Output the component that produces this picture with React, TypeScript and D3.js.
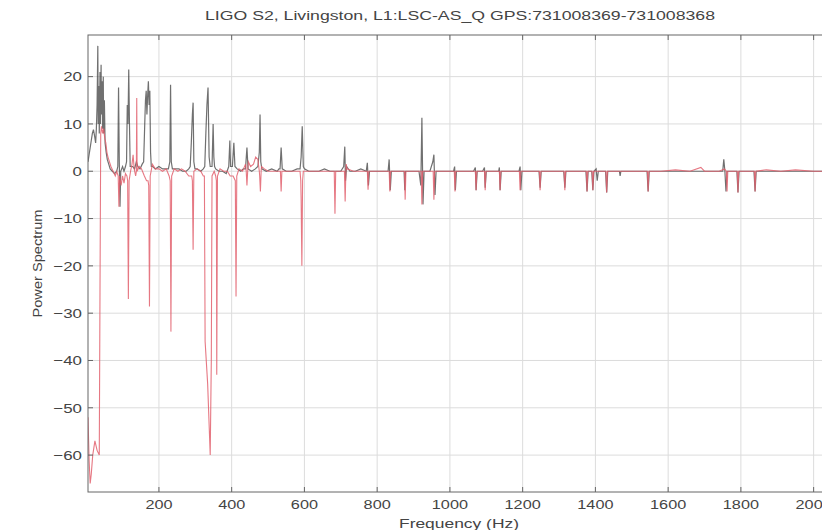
import React from 'react';
import * as d3 from 'd3';

// axis ticks
const xTicks = [200, 400, 600, 800, 1000, 1200, 1400, 1600, 1800, 2000];
const yTicks = [20, 10, 0, -10, -20, -30, -40, -50, -60];

const titleText = 'LIGO S2, Livingston, L1:LSC-AS_Q GPS:731008369-731008368';

// [frequency (Hz), power]
const blackSeries: [number, number][] = [
  [5, 2], [8, 3.5], [11, 5], [14, 6.5], [17, 8], [20, 8.8], [23, 7.5], [26, 6], [28, 9], [30, 14],
  [32, 26.5], [33, 10], [35, 18], [36, 8], [38, 21], [39, 10], [41, 22.5], [42, 12], [44, 19], [45, 9],
  [47, 20], [48, 8], [50, 15], [52, 6], [55, 4], [58, 2.5], [62, 1.5], [66, 0.5], [72, 0], [78, -0.5],
  [84, 0], [87, 1], [89, 17.7], [91, 2], [93, -7.5], [95, 0], [100, 1], [104, 0], [108, 1], [111, 2],
  [113, 14], [115, 10], [117, 21.5], [119, 10], [121, 1], [124, 1], [128, 1], [133, 0.5], [138, 2], [142, 1],
  [148, 0.5], [154, 1.5], [158, 2], [161, 10], [163, 15], [165, 17], [167, 12], [169, 16], [171, 19], [173, 14],
  [175, 17], [177, 4], [179, 1], [183, 1], [190, 0.5], [200, 1], [210, 0.5], [220, 0.5], [226, 0.5], [230, 2],
  [232, 18.3], [234, 2], [237, 0.5], [245, 0.5], [255, 0.5], [265, 0], [275, 0], [282, 0.5], [286, 1], [289, 6],
  [292, 12], [294, 14.5], [296, 2], [299, 0.5], [305, 0.5], [315, 0], [322, 0.5], [326, 1], [329, 8], [332, 14],
  [335, 17.7], [338, 3], [341, 1], [346, 1], [349, 10], [351, 3], [353, 1], [356, 0.5], [365, 0], [375, 0],
  [385, -0.5], [392, 1], [395, 6.5], [397, 1], [402, 1], [406, 6], [409, 1], [415, 0.5], [425, 0], [432, 0.5],
  [438, 0.5], [442, 5], [445, 0.5], [455, 0], [465, 0.5], [472, 1], [476, 4], [478, 12], [480, 2], [483, 0.5],
  [495, 0], [510, 0.5], [525, 0], [530, 0.5], [533, 0.5], [536, 5], [539, 0.5], [550, 0], [565, 0], [580, 0.5],
  [588, 0.5], [591, 3], [594, 9.5], [597, 1], [600, 0.5], [612, 0], [625, 0], [640, 0], [655, 0.5], [670, 0],
  [685, 0], [700, 0], [708, 1], [711, 5.2], [713, -2], [716, 1], [725, 0], [740, 0], [755, 0.5], [770, 0],
  [773, 1.8], [776, -3], [779, 0], [800, 0], [820, 0], [830, 0], [833, 2.5], [836, -4], [839, 0], [855, 0],
  [870, 0], [874, 0], [876, -4], [878, 0], [900, 0], [915, 0], [920, -3], [923, 11.3], [926, -7], [929, 0], [945, 0],
  [953, 2], [956, 3.5], [959, -5], [962, 0], [985, 0], [1010, 0], [1013, 1], [1015, -4], [1018, 0], [1045, 0],
  [1065, 0], [1070, 0.8], [1072, -4], [1075, 0], [1090, 0], [1095, 0.8], [1097, -3.5], [1100, 0], [1120, 0], [1134, 0],
  [1136, 0.8], [1138, -4], [1141, 0], [1165, 0], [1190, 0], [1193, 1], [1195, -4], [1198, 0], [1225, 0], [1245, 0],
  [1248, -3.5], [1251, 0], [1280, 0], [1313, 0], [1316, -3.5], [1319, 0], [1350, 0], [1374, 0], [1377, -4.3], [1380, 0],
  [1390, 0], [1393, -4], [1396, 0], [1402, 0.5], [1405, -2], [1408, 0], [1428, 0], [1431, -4.5], [1434, 0], [1450, 0],
  [1466, 0], [1468, -1], [1470, 0], [1500, 0], [1542, 0], [1545, -4.3], [1548, 0], [1600, 0], [1650, 0], [1700, 0],
  [1730, 0], [1750, 0], [1753, 2.5], [1756, 0], [1759, -4.3], [1762, 0], [1775, 0], [1789, 0], [1792, -4.5], [1795, 0],
  [1815, 0], [1836, 0], [1839, -4.3], [1842, 0], [1880, 0], [1920, 0], [1960, 0], [2000, 0], [2048, 0],
];

const redSeries: [number, number][] = [
  [5, -52], [8, -61], [11, -66], [14, -64], [18, -60], [24, -57], [30, -59], [36, -60], [38, -25], [40, 8],
  [42, 9.5], [45, 8], [48, 9], [51, 7], [54, 6], [57, 4], [60, 3], [64, 2], [68, 1], [74, 0],
  [80, -1], [84, 0], [88, -1], [90, -7.5], [92, -1], [96, -3], [100, -1], [104, -2.5], [108, -0.5], [112, -1],
  [114, -2], [116, -27], [118, -2], [122, 0], [126, 1.5], [129, 3.5], [132, 0.5], [136, -1], [138, 0], [139, 15.5],
  [140, 0], [146, 1], [152, 0.5], [160, -1], [166, -2], [170, -2], [172, -3], [174, -28.6], [176, -1], [182, 1.5],
  [190, 0.5], [200, 0.5], [210, 0], [220, 0.5], [228, -1], [231, -2], [233, -33.9], [235, -1], [242, 0.5], [252, 0],
  [262, 0.5], [272, 0], [282, -1], [290, -1], [292, -2], [294, -16.6], [296, 0], [305, 0.5], [315, 0], [322, -1],
  [325, -1], [327, -36], [334, -45], [341, -60], [344, -40], [346, -1], [352, 0], [356, -1], [358, -2], [359, -43],
  [361, -1], [368, 0.5], [378, 0], [388, 0], [396, -1], [404, -1], [410, -2], [412, -26.5], [414, -1], [420, 0.5],
  [430, 0], [438, 1.5], [440, 0], [442, -3], [444, 0], [446, 2], [452, 1], [460, 1.5], [466, 3], [472, 2.5],
  [476, 0], [477, -1], [479, -4.3], [481, 0], [482, 1], [490, 0.5], [500, 0], [515, 0], [528, 0], [534, 0],
  [536, -4.3], [538, 0], [555, 0], [570, 0], [588, 0], [590, -2], [591, -6], [593, -20], [595, -2], [597, 0],
  [600, 0], [620, 0], [640, 0], [660, 0], [675, 0], [682, 0], [684, -9], [686, 0], [695, 0], [705, 0],
  [710, 0], [712, -6.4], [714, 0], [715, 1.5], [717, 0.5], [735, 0], [750, 0], [765, 0], [773, 0], [775, -3.9],
  [777, 0], [800, 0], [815, 0], [833, 0], [835, -4.3], [837, 0], [855, 0], [875, 0], [877, -6], [879, 0],
  [900, 0], [915, 0], [921, 0], [923, -7], [925, 0], [940, 0], [954, 0], [956, -6], [958, 0], [985, 0],
  [1010, 0], [1012, 0], [1014, -4.3], [1016, 0], [1045, 0], [1070, 0], [1072, -4], [1074, 0], [1090, 0], [1095, 0],
  [1097, -4], [1099, 0], [1120, 0], [1136, 0], [1138, -4], [1140, 0], [1165, 0], [1191, 0], [1193, -4], [1195, 0],
  [1225, 0], [1246, 0], [1248, -4], [1250, 0], [1280, 0], [1314, 0], [1316, -4], [1318, 0], [1350, 0], [1375, 0],
  [1377, -4.3], [1379, 0], [1391, 0], [1393, -4], [1395, 0], [1429, 0], [1431, -4.5], [1433, 0], [1470, 0], [1510, 0],
  [1543, 0], [1545, -4.3], [1547, 0], [1580, 0], [1620, 0.3], [1660, 0], [1690, 0.8], [1700, 0], [1740, 0], [1755, 0.5],
  [1760, 0], [1762, -4.3], [1764, 0], [1790, 0], [1792, -4.5], [1794, 0], [1837, 0], [1839, -4.3], [1841, 0], [1870, 0.3],
  [1910, 0], [1950, 0.3], [2000, 0], [2048, 0],
];

const W = 822;
const H = 530;
const plot = { left: 88, top: 35, right: 830, bottom: 492 };
const font = 'Liberation Sans, Arial, sans-serif';

export default function App() {
  const x = d3.scaleLinear().domain([5, 2045]).range([plot.left, plot.right]);
  const y = d3.scaleLinear().domain([-67.8, 28.8]).range([plot.bottom, plot.top]);

  const line = d3.line<[number, number]>()
    .x(d => x(d[0]))
    .y(d => y(d[1]));

  const pw = plot.right - plot.left;
  const ph = plot.bottom - plot.top;

  return (
    <div style={{ position: 'absolute', left: 0, top: 0 }}>
      <svg width={W} height={H} style={{ display: 'block', background: '#fff' }}>
        <defs>
          <clipPath id="plotclip">
            <rect x={plot.left} y={plot.top} width={pw} height={ph} />
          </clipPath>
        </defs>

        {/* grid */}
        <g stroke="#dcdcdc" strokeWidth={1}>
          {xTicks.map(t => (
            <line key={'gx' + t} x1={x(t)} x2={x(t)} y1={plot.top} y2={plot.bottom} />
          ))}
          {yTicks.map(t => (
            <line key={'gy' + t} x1={plot.left} x2={plot.right} y1={y(t)} y2={y(t)} />
          ))}
        </g>

        <g clipPath="url(#plotclip)" fill="none">
          <path d={line(blackSeries) || ''} stroke="#333" strokeWidth={1.2} strokeOpacity={0.7} />
          <path d={line(redSeries) || ''} stroke="#e2606d" strokeWidth={1.1} strokeOpacity={0.85} />
        </g>

        {/* box and ticks */}
        <rect x={plot.left} y={plot.top} width={pw} height={ph} fill="none" stroke="#666" strokeWidth={1} />
        <g stroke="#666" strokeWidth={1}>
          {xTicks.map(t => (
            <g key={'tx' + t}>
              <line x1={x(t)} x2={x(t)} y1={plot.bottom} y2={plot.bottom - 5} />
              <line x1={x(t)} x2={x(t)} y1={plot.top} y2={plot.top + 5} />
            </g>
          ))}
          {yTicks.map(t => (
            <line key={'ty' + t} x1={plot.left} x2={plot.left + 5} y1={y(t)} y2={y(t)} />
          ))}
        </g>

        <g fontFamily={font} fontSize={13} fill="#444">
          {xTicks.map(t => (
            <text key={'lx' + t} textAnchor="middle" transform={`translate(${x(t)},${plot.bottom + 17}) scale(1.25,1)`}>
              {String(t)}
            </text>
          ))}
          {yTicks.map(t => (
            <text key={'ly' + t} textAnchor="end" dominantBaseline="central"
              transform={`translate(${plot.left - 6},${y(t)}) scale(1.3,1)`}>
              {t < 0 ? '\u2212' + Math.abs(t) : String(t)}
            </text>
          ))}
          <text x={460} y={20} fontSize={12} textAnchor="middle" textLength={510} lengthAdjust="spacingAndGlyphs">
            {titleText}
          </text>
          <text x={459} y={528} textAnchor="middle" textLength={120} lengthAdjust="spacingAndGlyphs">
            Frequency (Hz)
          </text>
          <text transform={`translate(42,${(plot.top + plot.bottom) / 2}) rotate(-90)`} textAnchor="middle"
            textLength={108} lengthAdjust="spacingAndGlyphs">
            Power Spectrum
          </text>
        </g>
      </svg>
    </div>
  );
}
